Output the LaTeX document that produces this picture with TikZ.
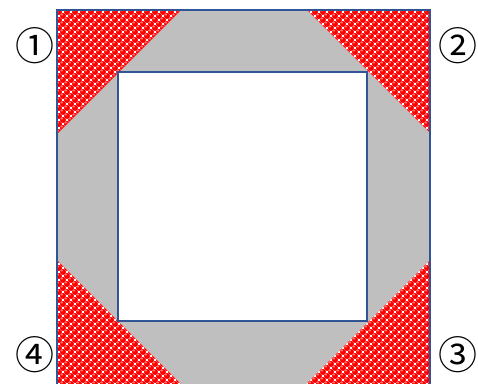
\documentclass[tikz,border=0pt]{standalone}
\usepackage{fontspec}
\newfontfamily\cjkfont{Noto Sans CJK JP}
\definecolor{edgeblue}{HTML}{2F5597}
\definecolor{fillgray}{HTML}{BFBFBF}
\definecolor{ballred}{HTML}{FF0000}
\tikzset{
  frameline/.style={draw=edgeblue, line width=2pt},
  numlabel/.style={font=\cjkfont\fontsize{39}{39}\selectfont, inner sep=0pt},
  ball/.style={fill=ballred},
  shine/.style={fill=white!65!ballred},
}
\newcommand{\dotfield}[2]{%
  \foreach \a in {0,...,16}{%
    \foreach \b in {0,...,16}{%
      \fill[ball] (#1+8*\a,#2+8*\b) circle[radius=3.0pt];
      \fill[shine] (#1+8*\a-1,#2+8*\b-1.2) circle[radius=0.9pt];
      \fill[ball] (#1+8*\a+4,#2+8*\b+4) circle[radius=3.0pt];
      \fill[shine] (#1+8*\a+3,#2+8*\b+2.8) circle[radius=0.9pt];
    }%
  }%
}
\begin{document}
\begin{tikzpicture}[x=1pt,y=-1pt]
\useasboundingbox (0,0) rectangle (478,383);
% gray ring
\fill[fillgray] (57,10) rectangle (430,385);
\fill[white] (118,72) rectangle (367,321);
% red patterned corners
\begin{scope}
  \clip (57,10) -- (181,10) -- (57,134) -- cycle
        (307,10) -- (430,10) -- (430,133) -- cycle
        (57,260) -- (57,385) -- (182,385) -- cycle
        (430,260) -- (430,385) -- (305,385) -- cycle;
  \fill[white] (57,10) rectangle (430,385);
  \dotfield{59}{12}
  \dotfield{299}{12}
  \dotfield{59}{252}
  \dotfield{299}{252}
\end{scope}
% frames
\draw[frameline] (57,385) -- (57,10) -- (430,10) -- (430,385);
\draw[frameline] (118,72) rectangle (367,321);
% labels
\node[numlabel] (n1) at (35,46) {①};
\node[numlabel] (n2) at (458,46) {②};
\node[numlabel] (n3) at (458,355) {③};
\node[numlabel] (n4) at (35,355) {④};
\end{tikzpicture}
\end{document}
